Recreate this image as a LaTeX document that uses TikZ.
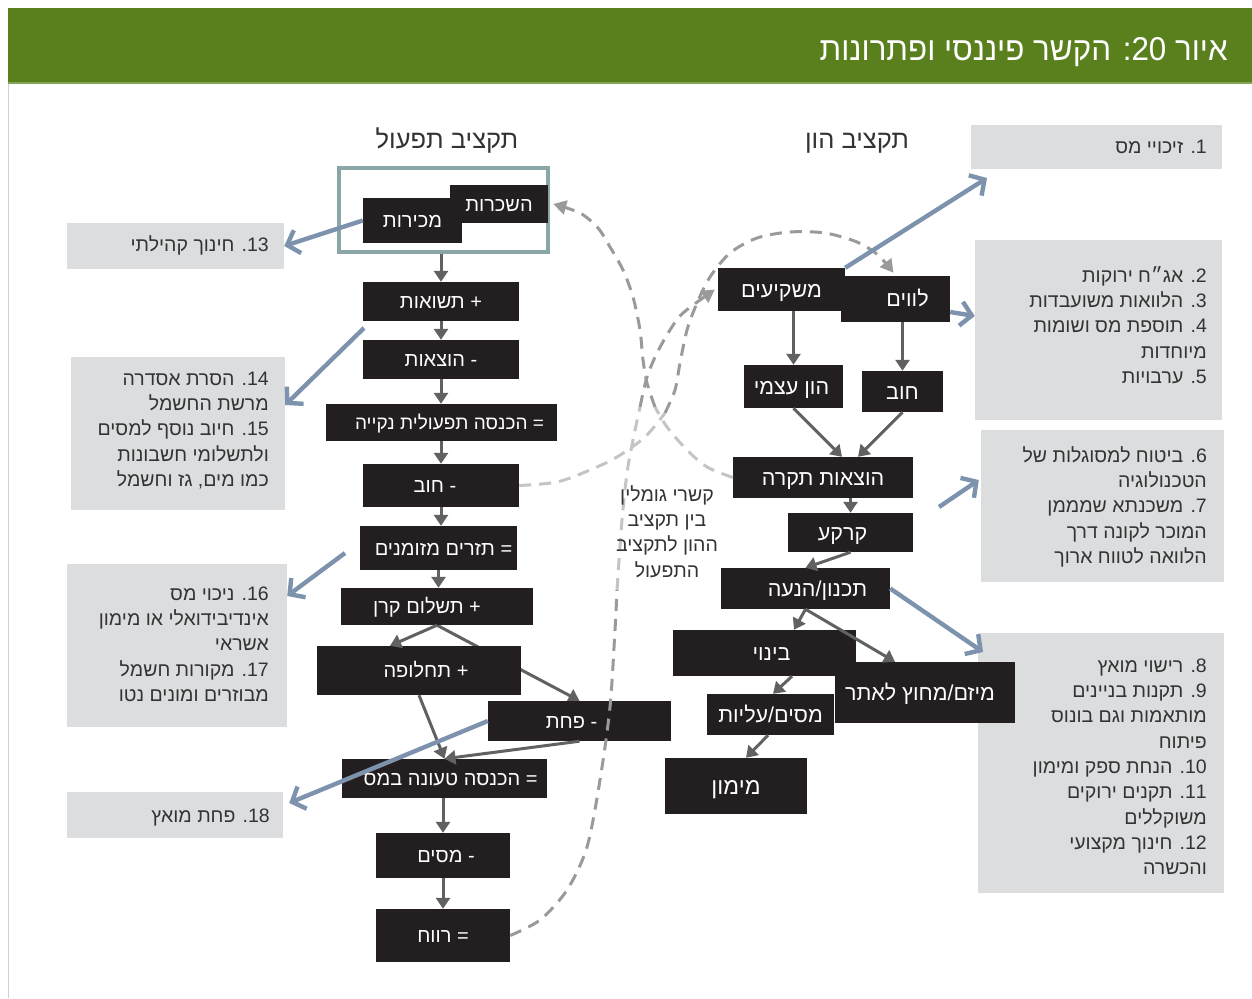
\documentclass[tikz,border=0pt]{standalone}
\usepackage{fontspec}
\setmainfont{Liberation Sans}
\newfontfamily\heb[Script=Hebrew]{Liberation Sans}
\newfontfamily\hebt[Script=Hebrew,FakeStretch=0.95]{Liberation Sans}
\TeXXeTstate=1
\usetikzlibrary{arrows.meta,backgrounds}
\definecolor{hdrgreen}{HTML}{5A7F1D}
\definecolor{hdrline}{HTML}{86A35A}
\definecolor{blk}{HTML}{231F20}
\definecolor{gbox}{HTML}{DCDDDF}
\definecolor{gtxt}{HTML}{333333}
\definecolor{frm}{HTML}{8BA6A7}
\definecolor{arr}{HTML}{616161}
\definecolor{blu}{HTML}{7D93AD}
\definecolor{dsh}{HTML}{9A9A9A}
\definecolor{dshl}{HTML}{C4C4C4}
\definecolor{edge}{HTML}{D0D0D0}
\newcommand\RL[1]{\beginR#1\endR}
\newcommand\NB[1]{\beginL#1\endL.}
\newcommand\TX[2]{\makebox[0pt]{\hspace*{#1}\hspace*{#1}\RL{#2}}}
\begin{document}
\begin{tikzpicture}[x=1pt,y=-1pt,
  blackbox/.style={fill=blk,text=white,inner sep=0pt,text height=14pt,text depth=0pt,font=\heb\fontsize{20}{24}\selectfont},
  bbR/.style={blackbox,text height=15pt,font=\heb\fontsize{21.5}{25}\selectfont},
  graybox/.style={fill=gbox,inner sep=0pt},
  gtext/.style={anchor=north east,inner sep=0pt,align=right,text=gtxt,font=\heb\fontsize{19.5}{25.3}\selectfont},
  heading/.style={anchor=base,inner sep=0pt,text=gtxt,font=\heb\fontsize{25.5}{28}\selectfont},
  flow/.style={draw=arr,line width=3pt,-{Triangle[length=11pt,width=14pt]}},
  bluearrow/.style={draw=blu,line width=4.4pt,-{Straight Barb[length=11pt,width=24pt]}},
  dashD/.style={draw=dsh,line width=3pt,dash pattern=on 12pt off 8pt},
  dashL/.style={draw=dshl,line width=3pt,dash pattern=on 12pt off 8pt},
  dtip/.style={-{Triangle[length=13pt,width=14pt]}},
]
\useasboundingbox (0,0) rectangle (1252,998);
% header
\fill[hdrgreen] (8,8) rectangle (1252,83);
\draw[hdrline,line width=1.5pt] (8,83) -- (1252,83);
\draw[edge,line width=1pt] (8.5,84) -- (8.5,998);
\node[anchor=base east,inner sep=0pt,text=white,font=\hebt\fontsize{33}{33}\selectfont] (title) at (1228,60) {\RL{איור \beginL20\endL: הקשר פיננסי ופתרונות}};
% headings
\node[heading] (headL) at (447,148) {\RL{תקציב תפעול}};
\node[heading] (headR) at (857,148) {\RL{תקציב הון}};
% gray boxes
\node[graybox,minimum width=251pt,minimum height=44pt] (b1) at (1096.5,147) {};
\node[graybox,minimum width=247pt,minimum height=180pt] (b2) at (1098.5,330) {};
\node[graybox,minimum width=243pt,minimum height=152pt] (b6) at (1102.5,506) {};
\node[graybox,minimum width=246pt,minimum height=260pt] (b8) at (1101,763) {};
\node[graybox,minimum width=217pt,minimum height=46pt] (b13) at (175.5,246) {};
\node[graybox,minimum width=214pt,minimum height=153pt] (b14) at (178,433.5) {};
\node[graybox,minimum width=220pt,minimum height=163pt] (b16) at (177,645.5) {};
\node[graybox,minimum width=216pt,minimum height=46pt] (b18) at (175,815) {};
% gray box texts
\node[gtext] (t1) at (1207,135.3) {\RL{\strut\NB{1} זיכויי מס}};
\node[gtext] (t2) at (1207,264.3) {\RL{\strut\NB{2} אג״ח ירוקות}\\\RL{\strut\NB{3} הלוואות משועבדות}\\\RL{\strut\NB{4} תוספת מס ושומות}\\\RL{\strut מיוחדות}\\\RL{\strut\NB{5} ערבויות}};
\node[gtext] (t6) at (1207,444.3) {\RL{\strut\NB{6} ביטוח למסוגלות של}\\\RL{\strut הטכנולוגיה}\\\RL{\strut\NB{7} משכנתא שמממן}\\\RL{\strut המוכר לקונה דרך}\\\RL{\strut הלוואה לטווח ארוך}};
\node[gtext] (t8) at (1207,654.3) {\RL{\strut\NB{8} רישוי מואץ}\\\RL{\strut\NB{9} תקנות בניינים}\\\RL{\strut מותאמות וגם בונוס}\\\RL{\strut פיתוח}\\\RL{\strut\NB{10} הנחת ספק ומימון}\\\RL{\strut\NB{11} תקנים ירוקים}\\\RL{\strut משוקללים}\\\RL{\strut\NB{12} חינוך מקצועי}\\\RL{\strut והכשרה}};
\node[gtext] (t13) at (269,233.3) {\RL{\strut\NB{13} חינוך קהילתי}};
\node[gtext] (t14) at (269,367.3) {\RL{\strut\NB{14} הסרת אסדרה}\\\RL{\strut מרשת החשמל}\\\RL{\strut\NB{15} חיוב נוסף למסים}\\\RL{\strut ולתשלומי חשבונות}\\\RL{\strut כמו מים, גז וחשמל}};
\node[gtext] (t16) at (269,582.3) {\RL{\strut\NB{16} ניכוי מס}\\\RL{\strut אינדיבידואלי או מימון}\\\RL{\strut אשראי}\\\RL{\strut\NB{17} מקורות חשמל}\\\RL{\strut מבוזרים ומונים נטו}};
\node[gtext] (t18) at (270,804.3) {\RL{\strut\NB{18} פחת מואץ}};
% teal frame
\node[draw=frm,line width=3.5pt,minimum width=209pt,minimum height=84pt,inner sep=0pt] (frame) at (443.5,210) {};
% operating budget boxes
\node[blackbox,minimum width=98pt,minimum height=38pt] (shk) at (499,204) {\TX{0pt}{השכרות}};
\node[blackbox,minimum width=99pt,minimum height=45pt] (mkr) at (412.5,220.5) {\TX{0pt}{מכירות}};
\node[blackbox,minimum width=156pt,minimum height=39pt] (tsh) at (441,301.5) {\TX{0pt}{+ תשואות}};
\node[blackbox,minimum width=156pt,minimum height=39pt] (hot) at (441,359.5) {\TX{0pt}{- הוצאות}};
\node[blackbox,minimum width=231pt,minimum height=37pt,font=\heb\fontsize{19}{23}\selectfont] (hkn) at (441.5,422.5) {\TX{8pt}{= הכנסה תפעולית נקייה}};
\node[blackbox,minimum width=156pt,minimum height=43pt] (hovL) at (441,485.5) {\TX{-6pt}{- חוב}};
\node[blackbox,minimum width=157pt,minimum height=44pt] (tzr) at (438.5,548) {\TX{5pt}{= תזרים מזומנים}};
\node[blackbox,minimum width=192pt,minimum height=37pt] (tkr) at (437,606.5) {\TX{-10pt}{+ תשלום קרן}};
\node[blackbox,minimum width=204pt,minimum height=49pt] (thl) at (419,670.5) {\TX{7pt}{+ תחלופה}};
\node[blackbox,minimum width=183pt,minimum height=40pt] (pht) at (579.5,721) {\TX{-8pt}{- פחת}};
\node[blackbox,minimum width=205pt,minimum height=39pt] (hkm) at (444.5,778.5) {\TX{6pt}{= הכנסה טעונה במס}};
\node[blackbox,minimum width=134pt,minimum height=45pt] (msm) at (443,855.5) {\TX{3pt}{- מסים}};
\node[blackbox,minimum width=134pt,minimum height=53pt] (rvh) at (443,935.5) {\TX{0pt}{= רווח}};
% capital budget boxes
\node[bbR,minimum width=127pt,minimum height=43pt] (mshk) at (781.5,289.5) {\TX{0pt}{משקיעים}};
\node[bbR,minimum width=109pt,minimum height=46pt] (lvm) at (895.5,299) {\TX{12pt}{לווים}};
\node[bbR,minimum width=99pt,minimum height=43pt] (hon) at (793.5,386.5) {\TX{-2pt}{הון עצמי}};
\node[bbR,minimum width=81pt,minimum height=41pt] (hovR) at (902.5,391.5) {\TX{0pt}{חוב}};
\node[bbR,minimum width=180pt,minimum height=41pt] (txp) at (823,477.5) {\TX{0pt}{הוצאות תקרה}};
\node[bbR,minimum width=125pt,minimum height=39pt] (krk) at (850.5,532.5) {\TX{-8pt}{קרקע}};
\node[bbR,minimum width=169pt,minimum height=41pt] (tkn) at (805.5,588.5) {\TX{12pt}{תכנון/הנעה}};
\node[bbR,minimum width=183pt,minimum height=46pt] (bny) at (764.5,653) {\TX{7pt}{בינוי}};
\node[bbR,minimum width=180pt,minimum height=61pt] (myz) at (925,692.5) {\TX{-5pt}{מיזם/מחוץ לאתר}};
\node[bbR,minimum width=127pt,minimum height=41pt] (msa) at (770.5,714.5) {\TX{0pt}{מסים/עליות}};
\node[bbR,minimum width=142pt,minimum height=56pt,text height=16pt,font=\heb\fontsize{23}{26}\selectfont] (mmn) at (736,786) {\TX{0pt}{מימון}};
% solid flow arrows, operating budget
\draw[flow] (tsh.north |- frame.south) -- (tsh.north);
\draw[flow] (tsh.south) -- (hot.north);
\draw[flow] (hot.south) -- (hot.south |- hkn.north);
\draw[flow] (hovL.north |- hkn.south) -- (hovL.north);
\draw[flow] (hovL.south) -- (hovL.south |- tzr.north);
\draw[flow] (tzr.south) -- (tzr.south |- tkr.north);
\draw[flow] (tkr.south) -- ([xshift=-29pt]thl.north);
\begin{scope}[on background layer]
\draw[flow] (tkr.south) -- (pht.north);
\end{scope}
\coordinate (hkmin) at (hkm.north);
\draw[flow] (thl.south) -- (hkmin);
\draw[flow] (pht.south) -- (hkmin);
\draw[flow] (msm.north |- hkm.south) -- (msm.north);
\draw[flow] (msm.south) -- (rvh.north);
% solid flow arrows, capital budget
\draw[flow] (hon.north |- mshk.south) -- (hon.north);
\draw[flow] (hovR.north |- lvm.south) -- (hovR.north);
\draw[flow] (hon.south) -- ([xshift=19pt]txp.north);
\draw[flow] (hovR.south) -- ([xshift=35pt]txp.north);
\draw[flow] (krk.north |- txp.south) -- (krk.north);
\draw[flow] (krk.south) -- (tkn.north);
\draw[flow] (tkn.south) -- ([xshift=29.5pt]bny.north);
\draw[flow] (tkn.south) -- ([xshift=-30pt]myz.north);
\draw[flow] ([xshift=27.5pt]bny.south) -- ([xshift=2.5pt]msa.north);
\draw[flow] ([xshift=-2.5pt]msa.south) -- ([xshift=10pt]mmn.north);
% dashed links between budgets
\coordinate (c1e) at ([xshift=5pt]shk.east);
\draw[dashL] plot[smooth] coordinates {(txp.west) (707,467) (687,450) (667,427) (655,407)};
\draw[dashD,dtip] plot[smooth] coordinates {(655,407) (647,383) (643,360) (640,330) (633,297) (623,270) (610,247) (598,228) (580,213) (c1e)};
\coordinate (c2e) at ([xshift=-2pt,yshift=3pt]lvm.north);
\draw[dashL] plot[smooth] coordinates {(hovL.east) (557,482) (590,470) (617,457) (645,437) (665,413)};
\draw[dashD,dtip] plot[smooth] coordinates {(665,413) (675,390) (680,363) (687,330) (697,303) (710,277) (730,253) (757,238) (790,232) (825,233) (857,242) (878,255) (c2e)};
\coordinate (c3e) at ([xshift=-3pt]mshk.west);
\draw[dashD] plot[smooth] coordinates {(rvh.east) (540,920) (567,890) (587,847) (600,780) (610,707) (615,630) (617,590)};
\draw[dashL] plot[smooth] coordinates {(617,590) (622,520) (627,473) (633,440) (640,407)};
\draw[dashD,dtip] plot[smooth] coordinates {(640,407) (647,377) (657,353) (670,330) (683,313) (c3e)};
% label
\node[gtext,anchor=north,align=center] (lbl) at (667,483.3) {\RL{\strut קשרי גומלין}\\\RL{\strut בין תקציב}\\\RL{\strut ההון לתקציב}\\\RL{\strut התפעול}};
% blue arrows to solutions
\draw[bluearrow] (mkr.west) -- (b13.east);
\coordinate (ba2s) at (364,328);
\draw[bluearrow] (ba2s) -- ([yshift=28.5pt]b14.east);
\coordinate (ba3s) at (345,553);
\draw[bluearrow] (ba3s) -- ([yshift=49.5pt]b16.east);
\draw[bluearrow] (pht.west) -- ([xshift=6pt,yshift=12pt]b18.east);
\coordinate (ba5e) at (987,178);
\draw[bluearrow] (mshk.north east) -- (ba5e);
\draw[bluearrow] ([yshift=-13pt]lvm.east) -- ([yshift=14pt]b2.west);
\coordinate (ba7s) at (939,507);
\draw[bluearrow] (ba7s) -- ([xshift=-2pt,yshift=26pt]b6.west);
\coordinate (ba8e) at (983,652);
\draw[bluearrow] (tkn.east) -- (ba8e);
\end{tikzpicture}
\end{document}
